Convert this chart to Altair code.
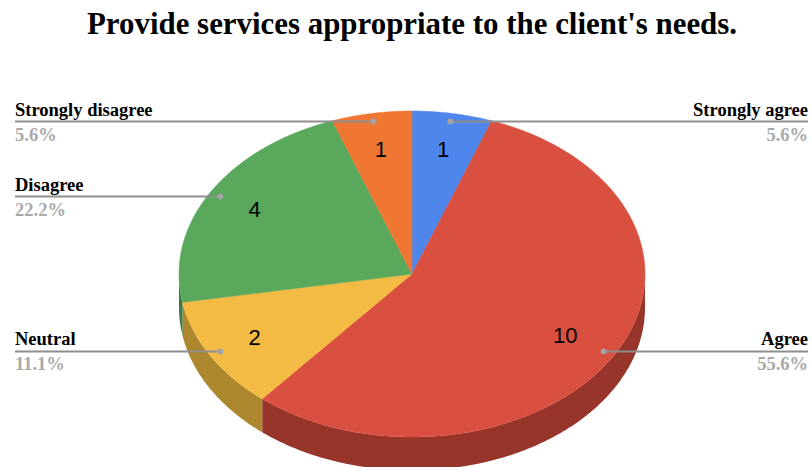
import math
import altair as alt
import pandas as pd

# Survey responses, clockwise from twelve o'clock
categories = ["Strongly agree", "Agree", "Neutral", "Disagree", "Strongly disagree"]
counts = [1, 10, 2, 4, 1]
top_colors = ["#4F86EC", "#D95040", "#F3BB44", "#59A85C", "#EF7733"]
wall_colors = ["#35589C", "#97352B", "#AD872D", "#3C7A44", "#A5522A"]
count_radii = [0.77, 0.76, 0.78, 0.78, 0.77]
TITLE = "Provide services appropriate to the client's needs."

# Squashed-pie geometry, in page pixels
CX, CY, RX, RY = 412, 274, 233, 163
DEPTH = 0.205          # wall height as a share of the vertical radius
LEFT, RIGHT = 15, 808  # outer ends of the leader lines
TOP_PAD = 50
W, H = 812, 467

x_scale = alt.Scale(domain=[-CX / RX, (W - CX) / RX], range=[0, W], nice=False, zero=False)
y_scale = alt.Scale(domain=[(CY - TOP_PAD) / RY, -(H - CY) / RY], range=[0, H - TOP_PAD],
                    nice=False, zero=False)
X = alt.X("x:Q", scale=x_scale, axis=None)
Y = alt.Y("y:Q", scale=y_scale, axis=None)


def point(angle, r=1.0):
    a = math.radians(angle)
    return r * math.sin(a), r * math.cos(a)


total = sum(counts)
spans = []
start = 0.0
for n in counts:
    spans.append((start, start + 360 * n / total))
    start += 360 * n / total

layers = []

# Side wall: only the part of the rim on the near half of the pie is visible
for (a0, a1), color in zip(spans, wall_colors):
    lo, hi = max(a0, 90), min(a1, 270)
    if lo >= hi:
        continue
    steps = max(2, int(hi - lo) * 2)
    rows = []
    for i in range(steps + 1):
        px, py = point(lo + (hi - lo) * i / steps)
        rows.append({"x": px, "y": py, "bottom": py - DEPTH})
    layers.append(
        alt.Chart(pd.DataFrame(rows))
        .mark_area(color=color, opacity=1)
        .encode(x=X, y=Y, y2=alt.Y2("bottom:Q"))
    )

# Top face: one closed outline per slice
for (a0, a1), color in zip(spans, top_colors):
    steps = max(2, int(a1 - a0) * 2)
    rows = [{"x": 0.0, "y": 0.0, "k": 0}]
    for i in range(steps + 1):
        px, py = point(a0 + (a1 - a0) * i / steps)
        rows.append({"x": px, "y": py, "k": i + 1})
    rows.append({"x": 0.0, "y": 0.0, "k": steps + 2})
    layers.append(
        alt.Chart(pd.DataFrame(rows))
        .mark_line(fill=color, stroke=color, strokeWidth=0.5)
        .encode(x=X, y=Y, order="k:Q")
    )

# Leader lines, dots, category labels and counts
mids = [(a0 + a1) / 2 for a0, a1 in spans]
rows = []
for name, n, mid, r in zip(categories, counts, mids, count_radii):
    dx, dy = point(mid, 0.95)
    nx, ny = point(mid, r)
    edge = RIGHT if mid < 180 else LEFT
    rows.append({
        "name": name,
        "n": n,
        "pct": f"{100 * n / total:.1f}%",
        "x": dx, "y": dy,
        "ex": (edge - CX) / RX,
        "nx": nx, "ny": ny,
        "side": "right" if mid < 180 else "left",
    })
labels = pd.DataFrame(rows)
base = alt.Chart(labels)
layers.append(
    base.mark_rule(color="#8E8E8E", strokeWidth=2).encode(x=X, x2="ex:Q", y=Y)
)
layers.append(
    base.mark_point(filled=True, color="#A3A3A3", opacity=1, size=36).encode(x=X, y=Y)
)
for side in ("left", "right"):
    part = base.transform_filter(alt.datum.side == side)
    layers.append(
        part.mark_text(align=side, baseline="alphabetic", dy=-6, font="Liberation Serif",
                       fontWeight="bold", fontSize=18.5, color="#000000")
        .encode(x=alt.X("ex:Q", scale=x_scale, axis=None), y=Y, text="name:N")
    )
    layers.append(
        part.mark_text(align=side, baseline="alphabetic", dy=19, font="Liberation Serif",
                       fontWeight="bold", fontSize=18.5, color="#A9A9A9")
        .encode(x=alt.X("ex:Q", scale=x_scale, axis=None), y=Y, text="pct:N")
    )
layers.append(
    base.mark_text(font="Liberation Sans", fontSize=22, color="#000000", baseline="middle")
    .encode(x=alt.X("nx:Q", scale=x_scale, axis=None),
            y=alt.Y("ny:Q", scale=y_scale, axis=None), text="n:Q")
)

chart = (
    alt.layer(*layers)
    .properties(
        width=W,
        height=H - TOP_PAD,
        autosize=alt.AutoSizeParams(type="none"),
        padding={"top": TOP_PAD, "left": 0, "right": 0, "bottom": 0},
        title=alt.TitleParams(TITLE, font="Liberation Serif", fontWeight="bold", fontSize=30.9,
                              color="#000000", anchor="start", offset=9, dx=87),
    )
    .configure_view(stroke=None)
)

chart.save("out.html", embed_options={"renderer": "svg", "actions": False})
